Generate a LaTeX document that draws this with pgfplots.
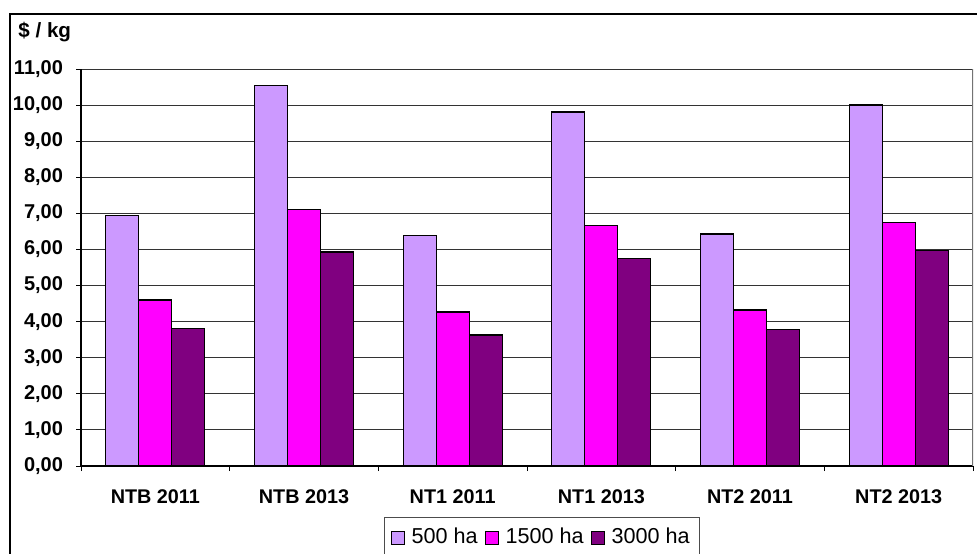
\documentclass[border=0pt]{standalone}
\usepackage{fontspec}
\setmainfont{Liberation Sans}
\usepackage{pgfplots}
\pgfplotsset{compat=1.18}

\definecolor{lilac}{HTML}{CC99FF}
\definecolor{pink}{HTML}{FF00FF}
\definecolor{plum}{HTML}{800080}

\begin{document}
\begin{tikzpicture}
  \useasboundingbox (0,0) rectangle (488.5pt,276.5pt);
  % frame round the chart
  \draw[line width=0.8pt] (5pt,-5pt) -- (5pt,269.5pt) -- (495pt,269.5pt);
  \node[anchor=west, inner sep=0pt, font=\fontsize{10.3}{12}\selectfont\bfseries] at (9pt,260.5pt) {\$ / kg};
  \begin{axis}[
      at={(40.5pt,43.5pt)}, anchor=south west,
      scale only axis,
      width=446pt, height=198.5pt,
      ybar=0pt, bar width=16.5pt,
      xmin=-0.5, xmax=5.5,
      ymin=0, ymax=11,
      ytick={0,1,...,11},
      xtick={0,...,5},
      xticklabels={NTB 2011, NTB 2013, NT1 2011, NT1 2013, NT2 2011, NT2 2013},
      minor xtick={-0.5,0.5,...,5.5},
      axis x line*=bottom,
      axis y line*=left,
      tick align=outside,
      major tick length=2.5pt,
      minor tick length=2.5pt,
      major x tick style={draw=none},
      tick style={black, line width=0.5pt},
      axis line style={black, line width=0.7pt},
      ymajorgrids,
      grid style={black!80, line width=0.5pt},
      /pgf/number format/assume math mode=true,
      yticklabel={\pgfmathprintnumber[fixed,fixed zerofill,precision=2,use comma]{\tick}},
      yticklabel style={font=\fontsize{10}{12}\selectfont\bfseries, xshift=-3pt},
      xticklabel style={font=\fontsize{9.9}{12}\selectfont\bfseries, yshift=-6pt},
      legend columns=3,
      legend style={
          at={(0.517,-0.128)}, anchor=north,
          draw=black!70, line width=0.5pt,
          font=\fontsize{10.8}{13}\selectfont,
          inner xsep=3pt, inner ysep=3.5pt,
          /tikz/every odd column/.append style={column sep=1.5pt},
          /tikz/every even column/.append style={column sep=1.5pt},
      },
      legend image code/.code={\draw[#1, draw=black, line width=0.5pt] (0pt,-3.25pt) rectangle (6.5pt,3.25pt);},
  ]
  \addplot[fill=lilac, draw=black, line width=0.6pt]
      coordinates {(0,6.95) (1,10.55) (2,6.38) (3,9.81) (4,6.43) (5,10.0)};
  \addlegendentry{500 ha}
  \addplot[fill=pink, draw=black, line width=0.6pt]
      coordinates {(0,4.60) (1,7.11) (2,4.27) (3,6.67) (4,4.32) (5,6.74)};
  \addlegendentry{1500 ha}
  \addplot[fill=plum, draw=black, line width=0.6pt]
      coordinates {(0,3.82) (1,5.93) (2,3.63) (3,5.74) (4,3.78) (5,5.97)};
  \addlegendentry{3000 ha}
  \draw[black!55, line width=0.7pt] (axis cs:5.5,0) -- (axis cs:5.5,11);
  \end{axis}
\end{tikzpicture}
\end{document}
